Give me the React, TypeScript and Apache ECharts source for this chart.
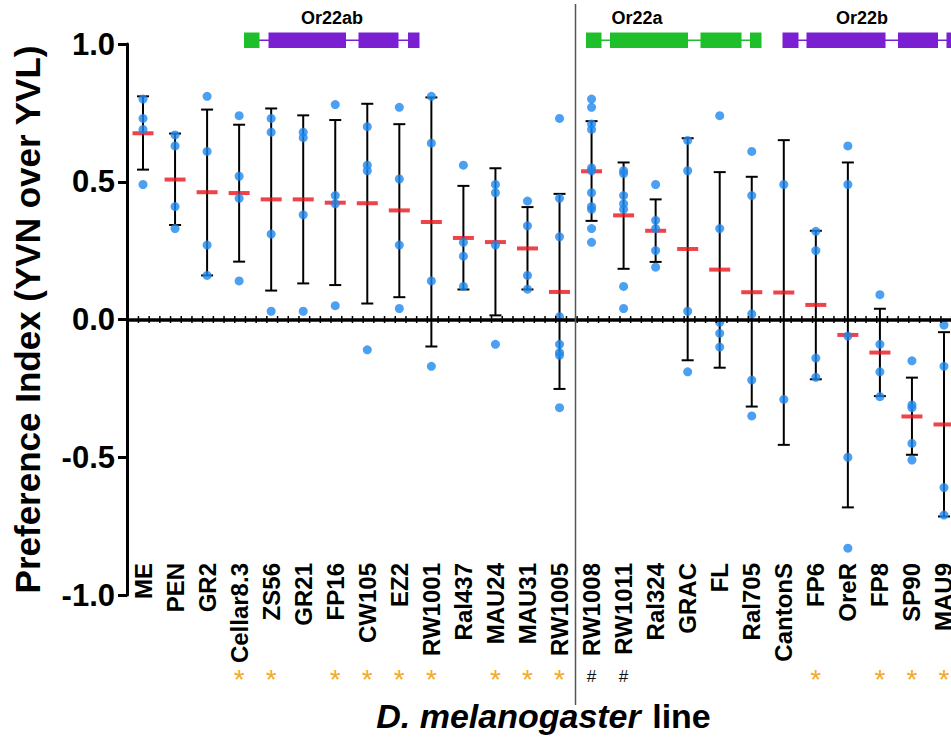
import React, { useEffect, useRef } from "react";
import * as echarts from "echarts";

const FONT = '"Liberation Sans", Arial, Helvetica, sans-serif';

const categories = [
  "ME", "PEN", "GR2", "Cellar8.3", "ZS56", "GR21", "FP16", "CW105", "EZ2", "RW1001",
  "Ral437", "MAU24", "MAU31", "RW1005", "RW1008", "RW1011", "Ral324", "GRAC", "FL",
  "Ral705", "CantonS", "FP6", "OreR", "FP8", "SP90", "MAU9",
];

const means = [
  0.676, 0.508, 0.462, 0.459, 0.436, 0.436, 0.424, 0.422, 0.396, 0.354,
  0.296, 0.281, 0.258, 0.1, 0.538, 0.378, 0.322, 0.256, 0.181,
  0.099, 0.098, 0.053, -0.056, -0.12, -0.352, -0.381,
];

const errUpper = [
  0.81, 0.675, 0.762, 0.707, 0.766, 0.741, 0.724, 0.783, 0.709, 0.806,
  0.485, 0.549, 0.408, 0.456, 0.72, 0.57, 0.436, 0.658, 0.535,
  0.518, 0.651, 0.322, 0.57, 0.039, -0.211, -0.046,
];

const errLower = [
  0.544, 0.343, 0.16, 0.21, 0.105, 0.131, 0.125, 0.058, 0.081, -0.098,
  0.109, 0.015, 0.109, -0.252, 0.358, 0.184, 0.209, -0.148, -0.175,
  -0.316, -0.455, -0.217, -0.682, -0.278, -0.491, -0.715,
];

const points: number[][] = [
  [0.8, 0.73, 0.69, 0.49],
  [0.67, 0.63, 0.41, 0.33],
  [0.81, 0.61, 0.27, 0.16],
  [0.74, 0.52, 0.44, 0.14],
  [0.73, 0.68, 0.31, 0.03],
  [0.68, 0.66, 0.38, 0.03],
  [0.78, 0.45, 0.42, 0.05],
  [0.7, 0.56, 0.54, -0.11],
  [0.77, 0.51, 0.27, 0.04],
  [0.81, 0.64, 0.14, -0.17],
  [0.56, 0.28, 0.23, 0.12],
  [0.49, 0.46, 0.27, -0.09],
  [0.43, 0.34, 0.16, 0.11],
  [0.73, 0.44, 0.3, 0.01, -0.09, -0.12, -0.13, -0.32],
  [0.8, 0.77, 0.71, 0.69, 0.55, 0.54, 0.46, 0.41, 0.4, 0.33, 0.28],
  [0.54, 0.53, 0.45, 0.42, 0.4, 0.12, 0.04],
  [0.49, 0.36, 0.33, 0.25, 0.19],
  [0.65, 0.54, 0.03, -0.19],
  [0.74, 0.33, -0.01, -0.05, -0.1],
  [0.61, 0.45, 0.02, -0.22, -0.35],
  [0.49, -0.29],
  [0.32, 0.25, -0.14, -0.21],
  [0.63, 0.49, -0.06, -0.5, -0.83],
  [0.09, -0.09, -0.19, -0.28],
  [-0.15, -0.31, -0.32, -0.45, -0.51],
  [-0.02, -0.17, -0.61, -0.71],
];

const significance = [
  "", "", "", "*", "*", "", "*", "*", "*", "*",
  "", "*", "*", "*", "#", "#", "", "", "",
  "", "", "*", "", "*", "*", "*",
];

const yTicks = [-1, -0.5, 0, 0.5, 1];

const BLUE = "#1f88ee";
const RED = "#e8141c";
const GREEN = "#1fbf2b";
const PURPLE = "#7a1fd2";
const ORANGE = "#f5a82a";

function geneGraphics() {
  const y = 32.5;
  const h = 15.5;
  const rect = (x: number, w: number, c: string) => ({
    type: "rect",
    shape: { x, y, width: w, height: h },
    style: { fill: c },
    z: 10,
  });
  const conn = (x1: number, x2: number, c: string) => ({
    type: "line",
    shape: { x1, y1: y + h / 2, x2, y2: y + h / 2 },
    style: { stroke: c, lineWidth: 1.5 },
    z: 9,
  });
  const label = (x: number, t: string) => ({
    type: "text",
    x,
    y: 18,
    style: {
      text: t,
      fontSize: 18,
      fontWeight: "bold",
      fontFamily: FONT,
      fill: "#000",
      align: "center",
      verticalAlign: "middle",
    },
    z: 10,
  });
  return [
    conn(259, 408, PURPLE),
    rect(244, 15.5, GREEN),
    rect(268.5, 77.5, PURPLE),
    rect(358.5, 40, PURPLE),
    rect(408, 11.5, PURPLE),
    label(332, "Or22ab"),
    conn(601, 750, GREEN),
    rect(586, 15.5, GREEN),
    rect(610, 78, GREEN),
    rect(700.5, 41, GREEN),
    rect(750, 11.5, GREEN),
    label(637, "Or22a"),
    conn(798, 960, PURPLE),
    rect(782.5, 16, PURPLE),
    rect(806.5, 79, PURPLE),
    rect(898, 40, PURPLE),
    rect(946.5, 20, PURPLE),
    label(862, "Or22b"),
    {
      type: "line",
      shape: { x1: 575.5, y1: 4, x2: 575.5, y2: 705 },
      style: { stroke: "#555", lineWidth: 1.5 },
      z: 10,
    },
  ];
}

export default function App() {
  const ref = useRef<HTMLDivElement>(null);

  useEffect(() => {
    if (!ref.current) return;
    const chart = echarts.init(ref.current, undefined, { renderer: "svg" });

    const errData = categories.map((_, i) => [i, errLower[i], errUpper[i]]);
    const meanData = categories.map((_, i) => [i, means[i]]);
    const pointData: number[][] = [];
    points.forEach((arr, i) => arr.forEach((v) => pointData.push([i, v])));

    const option: any = {
      animation: false,
      backgroundColor: "#ffffff",
      textStyle: { fontFamily: FONT },
      grid: {
        left: 127,
        top: 44,
        width: 833,
        height: 551,
        containLabel: false,
        outerBoundsMode: "none",
      },
      xAxis: [
        {
          type: "category",
          data: categories,
          position: "bottom",
          offset: -36,
          axisLine: { show: false },
          axisTick: { show: false },
          splitLine: { show: false },
          axisLabel: {
            interval: 0,
            rotate: 90,
            margin: 4,
            fontSize: 24,
            fontWeight: "bold",
            fontFamily: FONT,
            color: "#000",
          },
        },
        {
          type: "category",
          data: categories,
          position: "bottom",
          offset: 69,
          axisLine: { show: false },
          axisTick: { show: false },
          splitLine: { show: false },
          axisLabel: {
            interval: 0,
            margin: 0,
            formatter: (_v: string, i: number) => {
              const s = significance[i];
              if (s === "*") return "{a|*}";
              if (s === "#") return "{h|#}";
              return "";
            },
            rich: {
              a: { color: ORANGE, fontSize: 28, fontFamily: FONT, lineHeight: 24, padding: [6, 0, 0, 0] },
              h: { color: "#111", fontSize: 17, fontFamily: FONT, lineHeight: 24 },
            },
          },
          name: "{i|D. melanogaster}{n| line}",
          nameLocation: "middle",
          nameGap: 35,
          nameTextStyle: {
            rich: {
              i: { fontSize: 34, fontWeight: "bold", fontStyle: "italic", fontFamily: FONT, color: "#000" },
              n: { fontSize: 34, fontWeight: "bold", fontFamily: FONT, color: "#000", padding: [0, 0, 0, 2] },
            },
          },
        },
      ],
      yAxis: {
        type: "value",
        min: yTicks[0],
        max: yTicks[yTicks.length - 1],
        interval: 0.5,
        axisLine: { show: true, lineStyle: { color: "#000", width: 3 } },
        axisTick: { show: true, length: 9, lineStyle: { color: "#000", width: 3 } },
        splitLine: { show: false },
        axisLabel: {
          margin: 12,
          fontSize: 31,
          fontWeight: "bold",
          fontFamily: FONT,
          color: "#000",
          formatter: (v: number) => v.toFixed(1),
        },
        name: "Preference Index (YVN over YVL)",
        nameLocation: "middle",
        nameGap: 82,
        nameTextStyle: { fontSize: 35, fontWeight: "bold", fontFamily: FONT, color: "#000" },
      },
      series: [
        {
          type: "custom",
          name: "SD",
          xAxisIndex: 0,
          yAxisIndex: 0,
          z: 2,
          data: errData,
          encode: { x: 0, y: [1, 2] },
          renderItem: (_p: any, api: any) => {
            const x = api.value(0);
            const lo = api.coord([x, api.value(1)]);
            const hi = api.coord([x, api.value(2)]);
            const hw = 6;
            const st = { stroke: "#000", lineWidth: 2 };
            return {
              type: "group",
              children: [
                { type: "line", shape: { x1: lo[0], y1: lo[1], x2: hi[0], y2: hi[1] }, style: st },
                { type: "line", shape: { x1: lo[0] - hw, y1: lo[1], x2: lo[0] + hw, y2: lo[1] }, style: st },
                { type: "line", shape: { x1: hi[0] - hw, y1: hi[1], x2: hi[0] + hw, y2: hi[1] }, style: st },
              ],
            };
          },
          markLine: {
            silent: true,
            symbol: "none",
            label: { show: false },
            data: [
              { yAxis: 0, lineStyle: { color: "#000", width: 3.5, type: "solid" } },
              { yAxis: 0, lineStyle: { color: "#000", width: 7, type: [1.5, 9.2] } },
            ],
          },
        },
        {
          type: "scatter",
          name: "Mean",
          xAxisIndex: 0,
          z: 3,
          symbol: "rect",
          symbolSize: [21, 4],
          itemStyle: { color: RED },
          data: meanData,
        },
        {
          type: "scatter",
          name: "Replicates",
          xAxisIndex: 0,
          z: 4,
          symbol: "circle",
          symbolSize: 9,
          itemStyle: { color: BLUE },
          data: pointData,
        },
      ],
      graphic: geneGraphics(),
    };

    chart.setOption(option);
    return () => chart.dispose();
  }, []);

  return (
    <div
      ref={ref}
      style={{ position: "fixed", left: 0, top: 0, width: 951, height: 740, background: "#fff" }}
    />
  );
}
